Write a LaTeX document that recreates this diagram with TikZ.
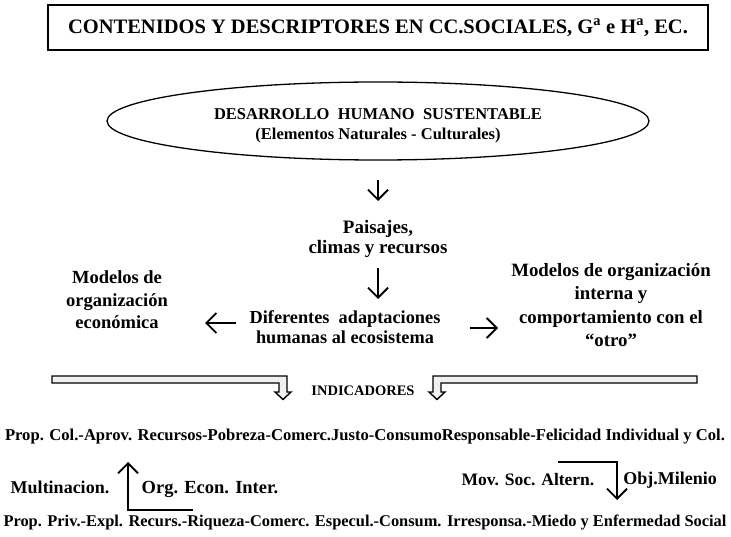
\documentclass[tikz,border=0pt]{standalone}
\usepackage{fontspec}
\setmainfont{Liberation Serif}
\usetikzlibrary{arrows.meta,shapes.geometric}
\newcommand{\fs}[2]{\bfseries\fontsize{#1}{#2}\selectfont}
\tikzset{
  txt/.style={align=center, inner sep=0pt},
  vhead/.style={-{Straight Barb[length=10pt,width=20pt]}},
  arr/.style={line width=1.8pt, vhead},
  bent/.style={line width=1.8pt, line join=miter, vhead},
  hollow/.style={line width=1.4pt, fill=gray!12, line join=miter},
}
\begin{document}
\begin{tikzpicture}[x=1pt,y=-1pt]
\useasboundingbox (0,0) rectangle (731,537);
% title
\node[draw, line width=1.5pt, minimum width=660pt, minimum height=45pt, inner sep=0pt,
      font=\fs{20.5}{22}] (title) at (378,27.5)
      {CONTENIDOS Y DESCRIPTORES EN CC.SOCIALES, G\textsuperscript{a} e H\textsuperscript{a}, EC.};
% ellipse
\node[draw, ellipse, line width=1.3pt, minimum width=542pt, minimum height=78pt] (ell) at (378,121) {};
\node[txt, font=\fs{16.5}{20}] (ellt) at (378,126) {DESARROLLO\ \ HUMANO\ \ SUSTENTABLE\\(Elementos Naturales - Culturales)};
% paisajes
\node[txt, font=\fs{19}{19.5}] (pai) at (378,239) {Paisajes,\\climas y recursos};
\coordinate (a1s) at (378,180);
\coordinate (a1e) at (378,201);
\draw[arr] (a1s) -- (a1e);
\coordinate (a2s) at (378,268);
\coordinate (a2e) at (378,299);
\draw[arr] (a2s) -- (a2e);
% middle
\node[txt, font=\fs{18.3}{20.5}] (dif) at (345,327) {Diferentes\ \ adaptaciones\\humanas al ecosistema};
\node[txt, font=\fs{18.5}{22.5}] (mle) at (117,300) {Modelos de\\organización\\económica};
\node[txt, font=\fs{18.8}{23.5}] (mri) at (611,305) {Modelos de organización\\interna y\\comportamiento con el\\“otro”};
\coordinate (la) at (236,323);
\coordinate (lb) at (205,323);
\draw[arr] (la) -- (lb);
\coordinate (ra) at (470,328);
\coordinate (rb) at (498,328);
\draw[arr] (ra) -- (rb);
% hollow bent arrows
\draw[hollow] (52,376) -- (287,376) -- (287,392) -- (291,392) -- (283,399.5) -- (275,392) -- (279,392) -- (279,383) -- (52,383) -- cycle;
\draw[hollow] (697,376) -- (433,376) -- (433,392) -- (429,392) -- (437,399.5) -- (445,392) -- (441,392) -- (441,383) -- (697,383) -- cycle;
\node[txt, font=\fs{14.5}{16}] (ind) at (363,391) {INDICADORES};
% bottom
\node[txt, font=\fs{16.6}{18}] (pcol) at (365,437) {Prop. Col.-Aprov. Recursos-Pobreza-Comerc.Justo-ConsumoResponsable-Felicidad Individual y Col.};
\node[txt, font=\fs{18}{20}] (mul) at (60,487) {Multinacion.};
\node[txt, font=\fs{18.5}{20}] (org) at (210,489) {Org. Econ. Inter.};
\node[txt, font=\fs{17.5}{20}] (mov) at (528,480) {Mov. Soc. Altern.};
\node[txt, font=\fs{18}{20}] (obj) at (670,480) {Obj.Milenio};
\node[txt, font=\fs{16.4}{18}] (ppriv) at (365,522) {Prop. Priv.-Expl. Recurs.-Riqueza-Comerc. Especul.-Consum. Irresponsa.-Miedo y Enfermedad Social};
\coordinate (u0) at (193,510);
\coordinate (u1) at (128,510);
\coordinate (u2) at (128,462);
\draw[bent] (u0) -- (u1) -- (u2);
\coordinate (d0) at (558,462);
\coordinate (d1) at (617,462);
\coordinate (d2) at (617,500);
\draw[bent] (d0) -- (d1) -- (d2);
\end{tikzpicture}
\end{document}
